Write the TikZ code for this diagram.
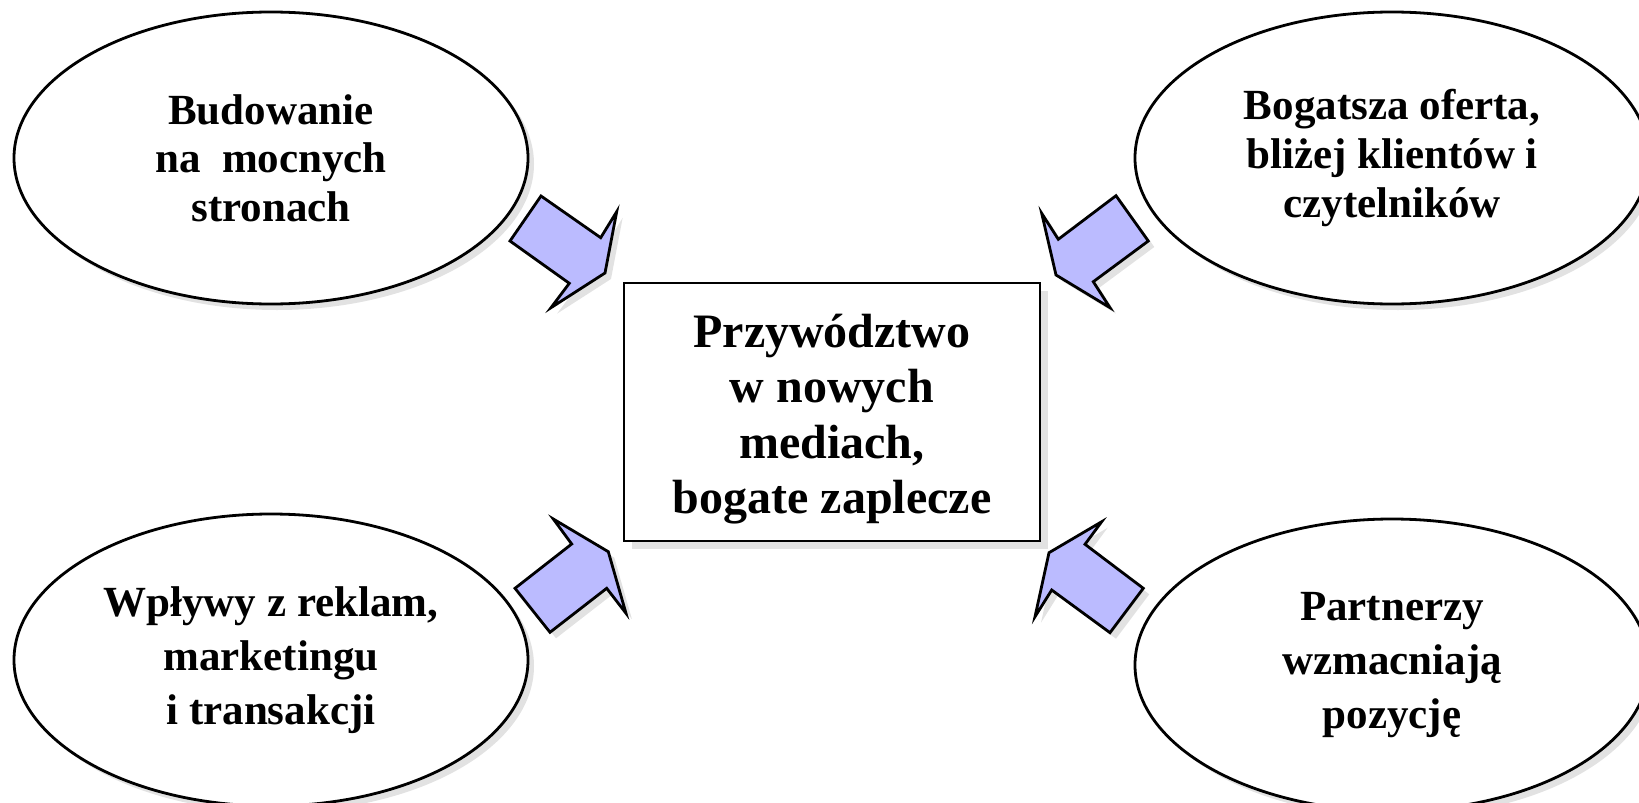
\documentclass[tikz,border=0pt]{standalone}
\usepackage{fontspec}
\setmainfont{Liberation Serif}
\usetikzlibrary{shapes.geometric,shadows}
\definecolor{arrowfill}{HTML}{BBBBFF}
\definecolor{shadowgray}{HTML}{E2E2E2}
\tikzset{
  bubble/.style={ellipse, draw=black, line width=1.4pt, fill=white,
    minimum width=257pt, minimum height=146pt, inner sep=0pt, align=center,
    font=\fontsize{21.5}{24.3}\selectfont\bfseries,
    drop shadow={shadow xshift=3pt, shadow yshift=-3pt, fill=shadowgray, opacity=1}},
  widebubble/.style={bubble, font=\fontsize{21.5}{26.9}\selectfont\bfseries},
  centerbox/.style={rectangle, draw=black, line width=1.4pt, fill=white,
    minimum width=208pt, minimum height=129pt, inner sep=0pt, align=center,
    font=\fontsize{24}{27.7}\selectfont\bfseries,
    drop shadow={shadow xshift=4pt, shadow yshift=-4pt, fill=shadowgray, opacity=1}},
  blockarrow/.style={draw=black, line width=1.4pt, fill=arrowfill, line join=miter},
  arrowshadow/.style={fill=shadowgray, draw=none}
}
\begin{document}
\begin{tikzpicture}[x=0.5pt, y=-0.5pt]
\useasboundingbox (0,0) rectangle (1639,803);
\clip (0,0) rectangle (1639,803);

% ellipses
\node[bubble] (tl) at (271,158) {Budowanie\\na\ \ mocnych\\stronach};
\node[bubble] (tr) at (1392,158) {Bogatsza oferta,\\bliżej klientów i\\czytelników};
\node[widebubble] (bl) at (271,660) {Wpływy z reklam,\\marketingu\\i transakcji};
\node[widebubble] (br) at (1392,665) {Partnerzy\\wzmacniają\\pozycję};

% center box
\node[centerbox] (c) at (832,412) {\\[-4pt]Przywództwo\\w nowych\\mediach,\\bogate zaplecze};

% arrow shadows
\begin{scope}[shift={(6,6)}]
\fill[arrowshadow] (510,241) -- (541,196) -- (600.7,237.7) -- (616.7,211.7) -- (605,273) -- (551,307.7) -- (569.3,283.3) -- cycle;
\fill[arrowshadow] (1116,195.7) -- (1148.3,241) -- (1093.3,281.7) -- (1110,307.7) -- (1056,275) -- (1041.7,213.3) -- (1058.3,239.3) -- cycle;
\fill[arrowshadow] (553.3,519) -- (571.7,544) -- (515,588.3) -- (550,632.3) -- (606.7,588.3) -- (626,613.3) -- (608.3,551.7) -- cycle;
\fill[arrowshadow] (1101.7,521.7) -- (1085,544.3) -- (1143.3,588.3) -- (1110,632.7) -- (1051.7,590) -- (1035,616.7) -- (1049,552.7) -- cycle;
\end{scope}

% arrows
\draw[blockarrow] (510,241) -- (541,196) -- (600.7,237.7) -- (616.7,211.7) -- (605,273) -- (551,307.7) -- (569.3,283.3) -- cycle;
\draw[blockarrow] (1116,195.7) -- (1148.3,241) -- (1093.3,281.7) -- (1110,307.7) -- (1056,275) -- (1041.7,213.3) -- (1058.3,239.3) -- cycle;
\draw[blockarrow] (553.3,519) -- (571.7,544) -- (515,588.3) -- (550,632.3) -- (606.7,588.3) -- (626,613.3) -- (608.3,551.7) -- cycle;
\draw[blockarrow] (1101.7,521.7) -- (1085,544.3) -- (1143.3,588.3) -- (1110,632.7) -- (1051.7,590) -- (1035,616.7) -- (1049,552.7) -- cycle;
\end{tikzpicture}
\end{document}
